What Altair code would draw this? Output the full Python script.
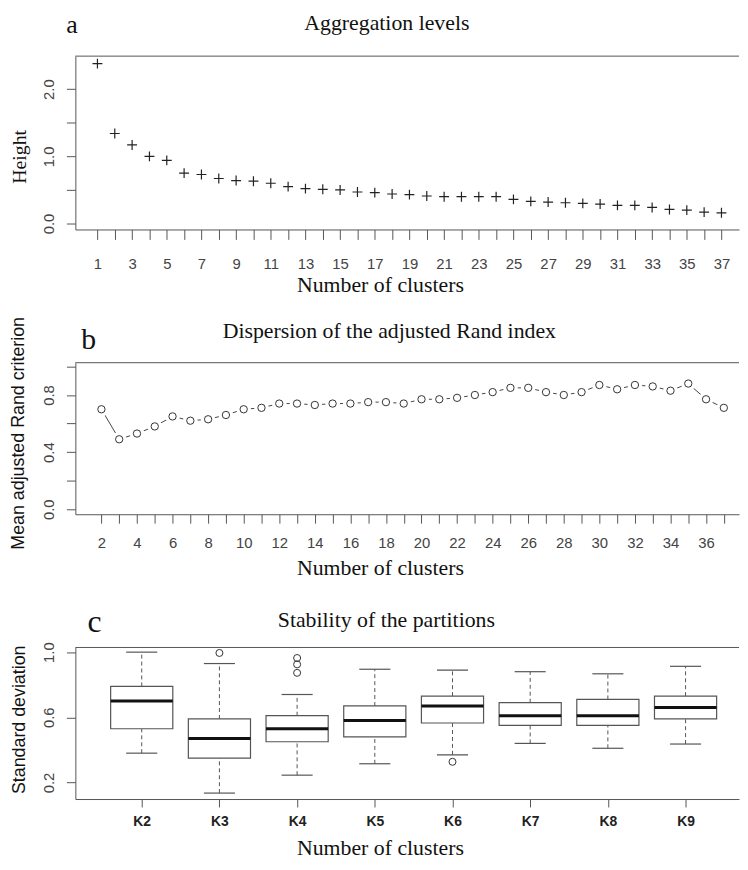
import altair as alt
import pandas as pd

# ---------------- data ----------------
clusters_a = list(range(1, 38))
height_a = [2.38, 1.34, 1.17, 1.00, 0.94, 0.75, 0.73, 0.67, 0.64, 0.63,
            0.60, 0.55, 0.52, 0.51, 0.50, 0.47, 0.46, 0.44, 0.43, 0.41,
            0.40, 0.40, 0.40, 0.40, 0.36, 0.33, 0.32, 0.31, 0.30, 0.29,
            0.27, 0.27, 0.24, 0.21, 0.20, 0.17, 0.16]

clusters_b = list(range(2, 38))
rand_b = [0.70, 0.49, 0.53, 0.58, 0.65, 0.62, 0.63, 0.66, 0.70, 0.71,
          0.74, 0.74, 0.73, 0.74, 0.74, 0.75, 0.75, 0.74, 0.77, 0.77,
          0.78, 0.80, 0.82, 0.85, 0.85, 0.82, 0.80, 0.82, 0.87, 0.84,
          0.87, 0.86, 0.83, 0.88, 0.77, 0.71]

box_labels = ["K2", "K3", "K4", "K5", "K6", "K7", "K8", "K9"]
box_idx = [1, 2, 3, 4, 5, 6, 7, 8]
whisker_low = [0.38, 0.135, 0.245, 0.315, 0.37, 0.44, 0.41, 0.436]
q1 = [0.53, 0.35, 0.45, 0.48, 0.565, 0.55, 0.55, 0.59]
median = [0.70, 0.47, 0.53, 0.58, 0.67, 0.61, 0.61, 0.66]
q3 = [0.79, 0.59, 0.61, 0.67, 0.73, 0.69, 0.71, 0.73]
whisker_high = [1.00, 0.93, 0.74, 0.895, 0.89, 0.88, 0.867, 0.913]
outlier_idx = [2, 3, 3, 3, 5]
outlier_val = [0.995, 0.964, 0.925, 0.873, 0.327]

panel_letters = ["a", "b", "c"]
panel_titles = ["Aggregation levels", "Dispersion of the adjusted Rand index",
                "Stability of the partitions"]
y_titles = ["Height", "Mean adjusted Rand criterion", "Standard deviation"]
x_title = "Number of clusters"

# ---------------- style ----------------
SERIF = "Liberation Serif"
SANS = "Liberation Sans"
BORDER = "#555555"
INK = "#222222"
W = 670
H_A, H_B, H_C = 175, 153, 153


def text_layer(txt, x, y, size, font, angle=None, color="#111111"):
    kw = dict(font=font, fontSize=size, align="center", baseline="alphabetic", color=color)
    if angle is not None:
        kw["angle"] = angle
    return alt.Chart(pd.DataFrame({"t": [txt]})).mark_text(**kw).encode(
        text="t:N", x=alt.value(x), y=alt.value(y))


def top_border():
    return alt.Chart(pd.DataFrame({"v": [0]})).mark_rule(color=BORDER, strokeWidth=1).encode(
        x=alt.value(0), x2=alt.value(W), y=alt.value(0))


def x_axis(values, expr, tick, pad, size=15, weight="normal", color="#444444"):
    return alt.Axis(values=values, labelExpr=expr, title=None, grid=False,
                    tickSize=tick, labelPadding=pad, labelFont=SANS, labelFontSize=size,
                    labelFontWeight=weight, labelColor=color, domainColor=BORDER,
                    tickColor=BORDER, labelOverlap=False, labelFlush=False)


def y_axis(values, expr):
    return alt.Axis(values=values, labelExpr=expr, title=None, grid=False,
                    tickSize=9, labelPadding=10, labelFont=SANS, labelFontSize=15,
                    labelColor="#444444", labelAngle=270, labelAlign="center",
                    labelBaseline="bottom", domainColor=BORDER, tickColor=BORDER,
                    labelOverlap=False, labelFlush=False)


# ---------------- panel a ----------------
df_a = pd.DataFrame({"k": clusters_a, "h": height_a})
xa = alt.X("k:Q", scale=alt.Scale(domain=[-0.274, 38.012], nice=False, zero=False),
           axis=x_axis(clusters_a, "datum.value % 2 == 1 ? datum.label : ''", 10, 17))
ya = alt.Y("h:Q", scale=alt.Scale(domain=[-0.088, 2.491], nice=False, zero=False),
           axis=y_axis([0, 0.5, 1, 1.5, 2],
                       "datum.value % 1 == 0 ? format(datum.value, '.1f') : ''"))
plus = "M-1,0L1,0M0,-1L0,1"
pts_a = alt.Chart(df_a).mark_point(shape=plus, size=100, filled=False, color=INK,
                                   strokeWidth=1.2, opacity=1).encode(x=xa, y=ya)
anchor = alt.Chart(pd.DataFrame({"v": [0]})).mark_rule(color="white", strokeWidth=1).encode(
    x=alt.value(-76.5), y=alt.value(-56), y2=alt.value(-54))

panel_a = alt.layer(
    anchor, top_border(), pts_a,
    text_layer(panel_letters[0], -3.5, -23.5, 26, SERIF),
    text_layer(panel_titles[0], 314.5, -26.2, 22, SERIF),
    text_layer(y_titles[0], -50, 101.7, 20, SERIF, angle=270),
    text_layer(x_title, 308, 238, 22, SERIF),
).properties(width=W, height=H_A)

# ---------------- panel b ----------------
df_b = pd.DataFrame({"k": clusters_b, "r": rand_b})
xb = alt.X("k:Q", scale=alt.Scale(domain=[0.535, 37.853], nice=False, zero=False),
           axis=x_axis(clusters_b, "datum.value % 2 == 0 && datum.value < 37 ? datum.label : ''", 9, 13))
yb = alt.Y("r:Q", scale=alt.Scale(domain=[-0.035, 1.026], nice=False, zero=False),
           axis=y_axis([0, 0.2, 0.4, 0.6, 0.8, 1.0],
                       "indexof(['0.0','0.4','0.8'], format(datum.value, '.1f')) >= 0 ? format(datum.value, '.1f') : ''"))
line_b = alt.Chart(df_b).mark_line(color="#444444", strokeWidth=1).encode(x=xb, y=yb)
mask_b = alt.Chart(df_b).mark_point(shape="circle", filled=True, color="white", size=220,
                                    opacity=1).encode(x=xb, y=yb)
pts_b = alt.Chart(df_b).mark_point(shape="circle", filled=False, color="#333333", size=55,
                                   strokeWidth=1, opacity=1).encode(x=xb, y=yb)
panel_b = alt.layer(
    top_border(), line_b, mask_b, pts_b,
    text_layer(panel_letters[1], 13.5, -13.5, 30, SERIF),
    text_layer(panel_titles[1], 317, -24.7, 22, SERIF),
    text_layer(y_titles[1], -51.4, 71.3, 18, SANS, angle=270),
    text_layer(x_title, 308, 214.7, 22, SERIF),
).properties(width=W, height=H_B)

# ---------------- panel c ----------------
df_c = pd.DataFrame({
    "i": box_idx, "lab": box_labels, "lo": whisker_low, "q1": q1, "med": median,
    "q3": q3, "hi": whisker_high,
})
df_c["b0"] = df_c["i"] - 0.4
df_c["b1"] = df_c["i"] + 0.4
df_c["s0"] = df_c["i"] - 0.2
df_c["s1"] = df_c["i"] + 0.2
df_o = pd.DataFrame({"i": outlier_idx, "v": outlier_val})

xs = alt.Scale(domain=[0.1457, 8.688], nice=False, zero=False)
ys = alt.Scale(domain=[0.0985, 1.0286], nice=False, zero=False)
xc = alt.X("i:Q", scale=xs,
           axis=x_axis(box_idx, "'K' + (datum.value + 1)", 8, 8, size=14,
                       weight="bold", color="#222222"))
yax_c = y_axis([0.2, 0.4, 0.6, 0.8, 1.0],
               "indexof(['0.2','0.6','1.0'], format(datum.value, '.1f')) >= 0 ? format(datum.value, '.1f') : ''")

base_c = alt.Chart(df_c)
whisk_up = base_c.mark_rule(color=BORDER, strokeWidth=1, strokeDash=[4, 3]).encode(
    x=xc, y=alt.Y("q3:Q", scale=ys, axis=yax_c), y2="hi:Q")
whisk_dn = base_c.mark_rule(color=BORDER, strokeWidth=1, strokeDash=[4, 3]).encode(
    x="i:Q", y=alt.Y("lo:Q", scale=ys), y2="q1:Q")
staple_hi = base_c.mark_rule(color=BORDER, strokeWidth=1.2).encode(
    x=alt.X("s0:Q", scale=xs), x2="s1:Q", y=alt.Y("hi:Q", scale=ys))
staple_lo = base_c.mark_rule(color=BORDER, strokeWidth=1.2).encode(
    x=alt.X("s0:Q", scale=xs), x2="s1:Q", y=alt.Y("lo:Q", scale=ys))
boxes = base_c.mark_rect(fill="white", stroke=BORDER, strokeWidth=1.2).encode(
    x=alt.X("b0:Q", scale=xs), x2="b1:Q", y=alt.Y("q1:Q", scale=ys), y2="q3:Q")
meds = base_c.mark_rule(color="#111111", strokeWidth=3).encode(
    x=alt.X("b0:Q", scale=xs), x2="b1:Q", y=alt.Y("med:Q", scale=ys))
outs = alt.Chart(df_o).mark_point(shape="circle", filled=False, color="#333333", size=50,
                                  strokeWidth=1, opacity=1).encode(
    x=alt.X("i:Q", scale=xs), y=alt.Y("v:Q", scale=ys))

panel_c = alt.layer(
    top_border(), whisk_up, whisk_dn, staple_hi, staple_lo, boxes, meds, outs,
    text_layer(panel_letters[2], 19.3, -15.3, 32, SERIF),
    text_layer(panel_titles[2], 314, -20.3, 22, SERIF),
    text_layer(y_titles[2], -50.4, 73, 18, SANS, angle=270),
    text_layer(x_title, 308, 209.5, 22, SERIF),
).properties(width=W, height=H_C)

chart = alt.vconcat(panel_a, panel_b, panel_c, spacing=134.5, bounds="flush").configure_view(
    stroke=None
).configure_axis(domainWidth=1, tickWidth=1).properties(
    padding={"left": -9, "top": -12.5, "right": 0, "bottom": 1}, background="white"
)

chart.save("out.html", embed_options={"renderer": "svg", "actions": False})
